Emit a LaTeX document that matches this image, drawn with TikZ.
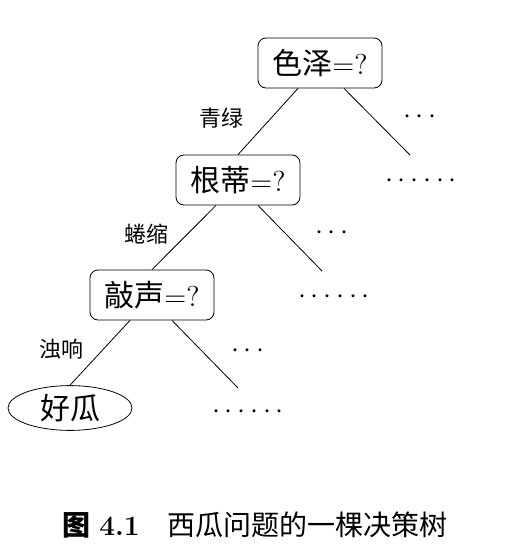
\documentclass[tikz,border=0pt]{standalone}
\usepackage{fontspec}
\newfontfamily\cjk{Noto Sans CJK SC}
\usetikzlibrary{shapes.geometric}

\begin{document}
\begin{tikzpicture}[x=0.5pt,y=-0.5pt,
  test/.style={draw, rounded corners=4pt, minimum width=62pt, minimum height=25pt,
    inner sep=2pt, font=\fontsize{15}{18}\selectfont},
  leaf/.style={draw, ellipse, minimum width=62pt, minimum height=20pt,
    inner sep=1pt, font=\fontsize{15}{18}\selectfont},
  lbl/.style={font=\fontsize{11}{13}\selectfont\cjk},
  more/.style={font=\fontsize{15.5}{18}\selectfont}]
  \useasboundingbox (0,0) rectangle (504,551);
  % tree
  \node[test] (sz) at (320,63) {{\cjk 色泽}$=?$};
  \node[test] (gd) at (238,180) {{\cjk 根蒂}$=?$};
  \node[test] (qs) at (152,295) {{\cjk 敲声}$=?$};
  \node[leaf] (hg) at (70,408) {\cjk 好瓜};
  \coordinate (sz-r) at (410,155);
  \coordinate (gd-r) at (322,271);
  \coordinate (qs-r) at (238,388);
  \path[draw, thin]
  ([xshift=-11pt]sz.south) edge node [lbl, left=10pt, pos=.45] {青绿} (gd.north)
  ([xshift=12pt]sz.south) edge (sz-r)
  ([xshift=-11pt]gd.south) edge node [lbl, left=6pt, pos=.45] {蜷缩} (qs.north)
  ([xshift=10pt]gd.south) edge (gd-r)
  ([xshift=-11pt]qs.south) edge node [lbl, left=6pt, pos=.45] {浊响} (hg.north)
  ([xshift=10pt]qs.south) edge (qs-r);
  % other branches
  \node[more] (m1) at (420,117) {$\cdots$};
  \node[more] (m2) at (421,181) {$\cdots\cdots$};
  \node[more] (m3) at (332,233) {$\cdots$};
  \node[more] (m4) at (334,297) {$\cdots\cdots$};
  \node[more] (m5) at (248,351) {$\cdots$};
  \node[more] (m6) at (248,412) {$\cdots\cdots$};
  % caption
  \node[font=\fontsize{14}{16}\selectfont] (cap) at (255,525)
    {{\cjk\bfseries 图}\ \textbf{4.1}\hspace{1em}{\cjk 西瓜问题的一棵决策树}};
\end{tikzpicture}
\end{document}
